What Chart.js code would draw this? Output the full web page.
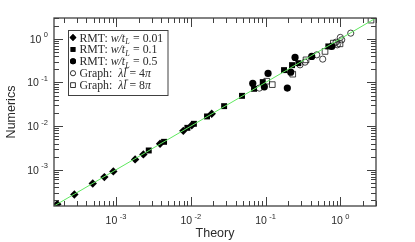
<!DOCTYPE html>
<html>
<head>
<meta charset="utf-8">
<script src="https://cdn.jsdelivr.net/npm/chart.js@4/dist/chart.umd.min.js"></script>
<style>
html,body{margin:0;padding:0;background:#fff;}
#wrap{width:415px;height:242px;}
</style>
</head>
<body>
<div id="wrap"><canvas id="c" width="415" height="242"></canvas></div>
<script>
// ---- data ----
const rmt001X = [1.64e-4, 2.77e-4, 4.88e-4, 6.98e-4, 9.2e-4, 1.8e-3, 2.32e-3, 3.88e-3, 7.94e-3, 1.03e-2, 1.905e-2];
const rmt001Y = [1.63e-4, 2.72e-4, 4.86e-4, 6.8e-4, 9.17e-4, 1.73e-3, 2.25e-3, 3.94e-3, 7.8e-3, 1.05e-2, 1.914e-2];

const rmt01X = [2.74e-3, 4.39e-3, 9.0e-3, 1.1e-2, 0.01648, 0.0279, 0.0484, 0.0701, 0.0917, 0.1766, 0.226, 0.2744, 0.691];
const rmt01Y = [2.77e-3, 4.37e-3, 9.14e-3, 1.13e-2, 0.01667, 0.0287, 0.0494, 0.0716, 0.102, 0.192, 0.2497, 0.277, 0.67];

const rmt05X = [0.0674, 0.0963, 0.108, 0.1955, 0.217, 0.248, 0.4145, 0.767];
const rmt05Y = [0.0951, 0.0795, 0.161, 0.0743, 0.1726, 0.375, 0.395, 0.67];

const graph4X = [0.0825, 0.289, 0.337, 0.4836, 0.5815, 0.876, 0.912, 1.044, 1.0, 1.378];
const graph4Y = [0.0743, 0.2535, 0.292, 0.43, 0.343, 0.84, 0.729, 0.948, 1.077, 1.35];

const graph8X = [0.1037, 0.123, 0.2309, 0.3477, 0.624, 0.806, 0.99, 2.574];
const graph8Y = [0.107, 0.0893, 0.155, 0.33, 0.514, 0.797, 0.768, 2.68];

const diagX = [1e-4, 10];
const diagY = [1e-4, 10];

const xTickExps = [-3, -2, -1, 0];
const yTickExps = [-3, -2, -1, 0];
const axisMin = 1.48e-4;
const axisMax = 3.0;
const xTitle = 'Theory';
const yTitle = 'Numerics';
const rmtValues = ['0.01', '0.1', '0.5'];
const graphValues = ['4', '8'];

const pts = (xs, ys) => xs.map((x, i) => ({x: x, y: ys[i]}));

const INK = '#2b2b2b';
const AXIS = '#404040';

function richText(ctx, x, y, segs) {
  let cx = x;
  for (const s of segs) {
    ctx.font = s.font;
    ctx.fillText(s.t, cx, y + (s.dy || 0));
    const w = ctx.measureText(s.t).width;
    if (s.bar) {
      ctx.save();
      ctx.strokeStyle = INK; ctx.lineWidth = 0.7;
      ctx.beginPath();
      ctx.moveTo(cx + 1.5, y - 9.2);
      ctx.lineTo(cx + w + 1.8, y - 9.2);
      ctx.stroke();
      ctx.restore();
    }
    cx += w + (s.gap || 0);
  }
}

const framePlugin = {
  id: 'frame',
  afterDatasetsDraw(chart) {
    const ctx = chart.ctx;
    const a = chart.chartArea;
    const xs = chart.scales.x, ys = chart.scales.y;
    ctx.save();
    // frame
    ctx.strokeStyle = AXIS;
    ctx.lineWidth = 1.3;
    ctx.strokeRect(a.left, a.top, a.right - a.left, a.bottom - a.top);
    // ticks
    ctx.lineWidth = 1;
    for (let d = -5; d <= 1; d++) {
      for (let m = 1; m <= 9; m++) {
        const v = m * Math.pow(10, d);
        const len = (m === 1) ? 9 : 5;
        if (v >= axisMin && v <= axisMax) {
          const px = Math.round(xs.getPixelForValue(v)) + 0.5;
          ctx.beginPath();
          ctx.moveTo(px, a.bottom); ctx.lineTo(px, a.bottom - len);
          ctx.moveTo(px, a.top); ctx.lineTo(px, a.top + len);
          ctx.stroke();
          const py = Math.round(ys.getPixelForValue(v)) + 0.5;
          ctx.beginPath();
          ctx.moveTo(a.left, py); ctx.lineTo(a.left + len, py);
          ctx.moveTo(a.right, py); ctx.lineTo(a.right - len, py);
          ctx.stroke();
        }
      }
    }
    // tick labels
    ctx.fillStyle = INK;
    ctx.textBaseline = 'alphabetic';
    const bigF = '10.5px "Liberation Sans", Arial, sans-serif';
    const smallF = '7.5px "Liberation Sans", Arial, sans-serif';
    function lbl(e) {
      ctx.font = bigF; const w1 = ctx.measureText('10').width;
      const es = (e < 0 ? '-' : '') + Math.abs(e);
      ctx.font = smallF; const w2 = ctx.measureText(es).width;
      return {w1, w2, es, total: w1 + 2.5 + w2};
    }
    for (const e of xTickExps) {
      const px = xs.getPixelForValue(Math.pow(10, e));
      const L = lbl(e);
      const x0 = px - L.total / 2;
      ctx.textAlign = 'left';
      ctx.font = bigF; ctx.fillText('10', x0, 224);
      ctx.font = smallF; ctx.fillText(L.es, x0 + L.w1 + 2.5, 218.5);
    }
    for (const e of yTickExps) {
      const py = ys.getPixelForValue(Math.pow(10, e));
      const L = lbl(e);
      const x0 = a.left - 6 - L.total;
      ctx.textAlign = 'left';
      ctx.font = bigF; ctx.fillText('10', x0, py + 4);
      ctx.font = smallF; ctx.fillText(L.es, x0 + L.w1 + 2.5, py - 1.5);
    }
    // axis titles
    ctx.font = '12.5px "Liberation Sans", Arial, sans-serif';
    ctx.textAlign = 'center';
    ctx.textBaseline = 'middle';
    ctx.fillText(xTitle, (a.left + a.right) / 2, 234);
    ctx.save();
    ctx.translate(12, (a.top + a.bottom) / 2);
    ctx.rotate(-Math.PI / 2);
    ctx.fillText(yTitle, 0, 0);
    ctx.restore();

    // legend
    const bx = 68.5, by = 30.5, bw = 99.5, bh = 65;
    ctx.fillStyle = '#fff';
    ctx.fillRect(bx, by, bw, bh);
    ctx.strokeStyle = AXIS; ctx.lineWidth = 1;
    ctx.strokeRect(bx, by, bw, bh);
    const styles = [
      {pointStyle: 'rectRot', radius: 3.4, fill: true},
      {pointStyle: 'rect', radius: 3.4, fill: true},
      {pointStyle: 'circle', radius: 3, fill: true},
      {pointStyle: 'circle', radius: 2.6, fill: false},
      {pointStyle: 'rect', radius: 3.4, fill: false}
    ];
    const R = '11.8px "Liberation Serif", "Times New Roman", serif';
    const I = 'italic 11.8px "Liberation Serif", "Times New Roman", serif';
    const S = 'italic 8px "Liberation Serif", "Times New Roman", serif';
    const rows = [];
    for (const v of rmtValues) {
      rows.push([{t: 'RMT: ', font: R}, {t: 'w/t', font: I}, {t: 'L', font: S, dy: 2.5, gap: 0.5}, {t: ' = ' + v, font: R}]);
    }
    for (const v of graphValues) {
      rows.push([{t: 'Graph:  ', font: R}, {t: 'λ', font: I}, {t: 'l', font: I, bar: true}, {t: ' = ' + v, font: R}, {t: 'π', font: I}]);
    }
    ctx.textAlign = 'left';
    ctx.textBaseline = 'alphabetic';
    for (let i = 0; i < rows.length; i++) {
      const cy = 37.5 + i * 11.9;
      const st = styles[i];
      ctx.fillStyle = st.fill ? '#000' : '#fff';
      ctx.strokeStyle = '#000';
      ctx.lineWidth = st.fill ? 0 : 0.8;
      Chart.helpers.drawPoint(ctx, {pointStyle: st.pointStyle, radius: st.radius, rotation: 0, borderWidth: st.fill ? 0 : 0.8}, 73, cy);
      if (st.fill) ctx.fill();
      ctx.fillStyle = INK;
      richText(ctx, 79.5, cy + 4, rows[i]);
    }
    ctx.restore();
  }
};

const filled = (label, data, style, r) => ({
  label, data, pointStyle: style, pointRadius: r, pointHoverRadius: r,
  backgroundColor: '#000', borderColor: '#000', borderWidth: 0, showLine: false
});
const hollow = (label, data, style, r) => ({
  label, data, pointStyle: style, pointRadius: r, pointHoverRadius: r,
  backgroundColor: 'rgba(255,255,255,0)', borderColor: '#111', borderWidth: 0.8, showLine: false
});

new Chart(document.getElementById('c'), {
  type: 'scatter',
  data: {
    datasets: [
      {label: 'y = x', data: pts(diagX, diagY), showLine: true, borderColor: '#5fe85f', borderWidth: 1,
       pointRadius: 0, pointHoverRadius: 0, fill: false},
      filled('RMT: w/t_L = 0.01', pts(rmt001X, rmt001Y), 'rectRot', 4.2),
      filled('RMT: w/t_L = 0.1', pts(rmt01X, rmt01Y), 'rect', 4.2),
      filled('RMT: w/t_L = 0.5', pts(rmt05X, rmt05Y), 'circle', 3.6),
      hollow('Graph: λl = 4π', pts(graph4X, graph4Y), 'circle', 3.1),
      hollow('Graph: λl = 8π', pts(graph8X, graph8Y), 'rect', 4.0)
    ]
  },
  options: {
    responsive: false,
    animation: false,
    devicePixelRatio: 1,
    layout: {padding: {top: 18, right: 39, left: 0, bottom: 0}},
    plugins: {legend: {display: false}, tooltip: {enabled: false}, title: {display: false}},
    scales: {
      x: {type: 'logarithmic', min: axisMin, max: axisMax,
          ticks: {display: false}, grid: {display: false}, border: {display: false},
          afterFit(s) { s.height = 36; }},
      y: {type: 'logarithmic', min: axisMin, max: axisMax,
          ticks: {display: false}, grid: {display: false}, border: {display: false},
          afterFit(s) { s.width = 54; }}
    }
  },
  plugins: [framePlugin]
});
</script>
</body>
</html>
